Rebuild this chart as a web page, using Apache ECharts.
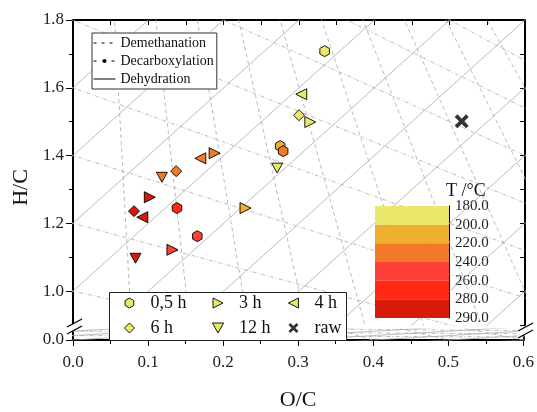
<!DOCTYPE html>
<html>
<head>
<meta charset="utf-8">
<script src="https://cdn.jsdelivr.net/npm/echarts@6/dist/echarts.min.js"></script>
<style>
  html, body { margin: 0; padding: 0; background: #fff; }
  #chart { width: 537px; height: 412px; }
</style>
</head>
<body>
<div id="chart"></div>
<script>
var FONT = "'Liberation Serif', 'DejaVu Serif', serif";

// temperature classes and colours of the colour scale
var tempSteps = [180, 200, 220, 240, 260, 280];
var tempColors = ['#E9E86B', '#EEAE2E', '#F37A28', '#FE4136', '#FF2914', '#D71A0A'];
var tempTicks = ['180.0', '200.0', '220.0', '240.0', '260.0', '280.0', '290.0'];

// samples: [O/C, H/C, T]
var data05h = [[0.334, 1.708, 180], [0.275, 1.428, 200], [0.279, 1.413, 220], [0.138, 1.245, 260], [0.165, 1.162, 240]];
var data3h = [[0.315, 1.499, 180], [0.229, 1.245, 200], [0.188, 1.407, 220], [0.102, 1.277, 280], [0.132, 1.122, 240]];
var data4h = [[0.303, 1.581, 180], [0.169, 1.392, 220], [0.092, 1.218, 280]];
var data6h = [[0.300, 1.519, 180], [0.137, 1.354, 220], [0.081, 1.236, 280]];
var data12h = [[0.271, 1.363, 180], [0.118, 1.336, 220], [0.083, 1.097, 280]];
var dataRaw = [[0.516, 1.501]];

// reaction lines
var demethEnds = [0.1, 0.2, 0.3, 0.4, 0.5, 0.6, 0.7, 0.8, 0.9, 1.0];   // O/C at H/C = 0, lines through (0, 4)
var decarbStarts = [0.2, 0.4, 0.6, 0.8, 1.0, 1.2, 1.4, 1.6, 1.8, 2.0, 2.2, 2.4, 2.6]; // H/C at O/C = 0, lines to (2, 0)
var dehydStarts = [1.8, 1.6, 1.4, 1.2, 1.0, 0.8, 0.6, 0.4, 0.2, 0, -0.2, -0.4, -0.6, -0.8, -1.0, -1.2]; // slope 2

function demethLine(a) { return [[0, 4], [a * 1.05, -0.2]]; }
function decarbLine(b) { return [[-0.05, b * 1.025], [0.7, b * 0.65]]; }
function dehydLine(c) { return [[-0.05, c - 0.1], [0.7, c + 1.4]]; }

function toSegments(list, lineFn) {
    var out = [];
    list.forEach(function (v) {
        var s = lineFn(v);
        out.push(s[0], s[1], ['-', '-']);
    });
    return out;
}

var SYM = {
    hex: 'path://M5,0L9.33,2.5L9.33,7.5L5,10L0.67,7.5L0.67,2.5Z',
    right: 'path://M0,0L10,5L0,10Z',
    left: 'path://M10,0L0,5L10,10Z',
    diamond: 'path://M5,0L10,5L5,10L0,5Z',
    down: 'path://M0,0L10,0L5,9Z',
    cross: 'path://M1.9,0L5,3.1L8.1,0L10,1.9L6.9,5L10,8.1L8.1,10L5,6.9L1.9,10L0,8.1L3.1,5L0,1.9Z'
};

function tempColor(p) {
    return tempColors[tempSteps.indexOf(p.value[2])];
}

var guideColor = '#a9a9a9';

function guideSeries(name, list, lineFn, type, symbol, xi, yi) {
    return {
        type: 'line', name: name, xAxisIndex: xi, yAxisIndex: yi,
        data: toSegments(list, lineFn),
        symbol: symbol, showSymbol: false, silent: true, z: 1,
        connectNulls: false, clip: true,
        lineStyle: { color: guideColor, width: 0.8, type: type },
        itemStyle: { color: '#000' }
    };
}

function pointSeries(name, data, symbol, size) {
    return {
        type: 'scatter', name: name, xAxisIndex: 0, yAxisIndex: 0,
        data: data, symbol: symbol, symbolSize: size, symbolKeepAspect: true, z: 5,
        itemStyle: { color: tempColor, borderColor: '#000', borderWidth: 0.9, opacity: 1 }
    };
}

var series = [
    guideSeries('Demethanation', demethEnds, demethLine, [4, 3], 'none', 0, 0),
    guideSeries('Decarboxylation', decarbStarts, decarbLine, [4, 2, 1, 2], 'circle', 0, 0),
    guideSeries('Dehydration', dehydStarts, dehydLine, 'solid', 'none', 0, 0),
    guideSeries('demethLow', demethEnds, demethLine, [4, 3], 'none', 1, 3),
    guideSeries('decarbLow', decarbStarts, decarbLine, [4, 2, 1, 2], 'none', 1, 3),
    guideSeries('dehydLow', dehydStarts, dehydLine, 'solid', 'none', 1, 3),
    pointSeries('0,5 h', data05h, SYM.hex, 11),
    pointSeries('3 h', data3h, SYM.right, 11),
    pointSeries('4 h', data4h, SYM.left, 11),
    pointSeries('6 h', data6h, SYM.diamond, 11),
    pointSeries('12 h', data12h, SYM.down, 11),
    {
        type: 'scatter', name: 'raw', xAxisIndex: 0, yAxisIndex: 0, data: dataRaw,
        symbol: SYM.cross, symbolSize: 14, z: 5,
        itemStyle: { color: '#000', borderWidth: 0 }
    }
];

// colour scale blocks
tempColors.forEach(function (c, i) {
    series.push({
        type: 'bar', name: 'T' + i, stack: 'scale', xAxisIndex: 2, yAxisIndex: 5,
        data: [1], barWidth: '100%', silent: true,
        itemStyle: { color: c }
    });
});

var axisLine = { show: true, lineStyle: { color: '#000', width: 2 } };
var tickStyle = { color: '#000', width: 1 };
var labelStyle = { fontFamily: FONT, fontSize: 17, color: '#222' };

var markerLegend = {
    orient: 'vertical', top: 294, itemWidth: 32, itemHeight: 10, itemGap: 7, padding: 0,
    selectedMode: false,
    textStyle: { fontFamily: FONT, fontSize: 18, color: '#111' },
    itemStyle: { color: '#E9E86B', borderColor: '#000', borderWidth: 0.9 }
};

var option = {
    animation: false,
    backgroundColor: '#fff',
    title: {
        text: 'T /°C', left: 446, top: 182, padding: 0,
        textStyle: { fontFamily: FONT, fontSize: 18, fontWeight: 'normal', color: '#111' }
    },
    grid: [
        { left: 73, top: 20, width: 452, height: 305 },
        { left: 73, top: 329, width: 452, height: 22 },
        { left: 375, top: 206, width: 74, height: 112 }
    ],
    xAxis: [
        {
            gridIndex: 0, type: 'value', min: 0, max: 0.6, interval: 0.05, position: 'top',
            axisLine: axisLine, axisTick: { inside: true, length: 5, lineStyle: tickStyle },
            axisLabel: { show: false }, splitLine: { show: false }
        },
        {
            gridIndex: 1, type: 'value', min: 0, max: 0.6, interval: 0.1, position: 'bottom',
            axisLine: axisLine, axisTick: { length: 6, lineStyle: tickStyle },
            minorTick: { show: true, splitNumber: 2, length: 4, lineStyle: tickStyle },
            axisLabel: Object.assign({ margin: 14, formatter: function (v) { return v.toFixed(1); } }, labelStyle),
            splitLine: { show: false },
            name: 'O/C', nameLocation: 'middle', nameGap: 49,
            nameTextStyle: { fontFamily: FONT, fontSize: 22, color: '#111' }
        },
        { gridIndex: 2, type: 'category', data: ['T'], show: false }
    ],
    yAxis: [
        {
            gridIndex: 0, type: 'value', min: 0.9, max: 1.8, interval: 0.1, position: 'left',
            axisLine: axisLine, axisTick: { length: 4, lineStyle: tickStyle },
            axisLabel: Object.assign({
                margin: 9,
                formatter: function (v) { return Math.round(v * 10) % 2 === 0 ? v.toFixed(1) : ''; }
            }, labelStyle),
            splitLine: { show: false },
            name: 'H/C', nameLocation: 'middle', nameGap: 41,
            nameTextStyle: { fontFamily: FONT, fontSize: 22, color: '#111', padding: [0, 30, 0, 0] }
        },
        {
            gridIndex: 0, type: 'value', min: 0.9, max: 1.8, position: 'left',
            axisLine: { show: false },
            axisTick: { show: true, length: 7, lineStyle: tickStyle, customValues: [1.0, 1.2, 1.4, 1.6, 1.8] },
            axisLabel: { show: false }, splitLine: { show: false }
        },
        {
            gridIndex: 0, type: 'value', min: 0.9, max: 1.8, interval: 0.1, position: 'right',
            axisLine: axisLine, axisTick: { inside: true, length: 5, lineStyle: tickStyle },
            axisLabel: { show: false }, splitLine: { show: false }
        },
        {
            gridIndex: 1, type: 'value', min: 0, max: 0.5, position: 'left',
            axisLine: axisLine,
            axisTick: { length: 7, lineStyle: tickStyle, customValues: [0] },
            axisLabel: Object.assign({ margin: 9, customValues: [0], formatter: function (v) { return v.toFixed(1); } }, labelStyle),
            splitLine: { show: false }
        },
        {
            gridIndex: 1, type: 'value', min: 0, max: 0.5, position: 'right',
            axisLine: axisLine, axisTick: { show: false },
            axisLabel: { show: false }, splitLine: { show: false }
        },
        {
            gridIndex: 2, type: 'value', min: 0, max: 6, interval: 1, inverse: true, position: 'right',
            axisLine: { show: true, lineStyle: { color: '#000', width: 1 } },
            axisTick: { length: 5, lineStyle: tickStyle },
            axisLabel: Object.assign({}, labelStyle, { fontSize: 15, margin: 6, formatter: function (v) { return tempTicks[v]; } }),
            splitLine: { show: false }
        }
    ],
    legend: [
        {
            left: 92, top: 33, orient: 'vertical', itemWidth: 22, itemHeight: 5, itemGap: 4,
            padding: [3, 3, 3, 1], backgroundColor: '#fff', borderColor: '#333', borderWidth: 1,
            selectedMode: false,
            textStyle: { fontFamily: FONT, fontSize: 14, color: '#111' },
            lineStyle: { color: '#000', width: 1 },
            itemStyle: { color: '#000', borderWidth: 0 },
            data: [
                { name: 'Demethanation', lineStyle: { type: [3, 5] }, itemStyle: { opacity: 0 } },
                { name: 'Decarboxylation', lineStyle: { type: [3, 6] } },
                { name: 'Dehydration', lineStyle: { type: 'solid' }, itemStyle: { opacity: 0 } }
            ]
        },
        Object.assign({ left: 124, data: ['0,5 h', '6 h'] }, markerLegend),
        Object.assign({ left: 212, data: ['3 h', '12 h'] }, markerLegend),
        Object.assign({ left: 288, data: ['4 h', { name: 'raw', itemStyle: { color: '#000', borderWidth: 0 } }] }, markerLegend)
    ],
    graphic: [
        {
            type: 'rect', z: 3, shape: { x: 109.5, y: 292.5, width: 237, height: 48 },
            style: { fill: '#fff', stroke: '#222', lineWidth: 1 }
        },
        // axis breaks
        { type: 'polygon', z: 10, shape: { points: [[67, 327], [82, 319], [82, 326], [67, 334]] }, style: { fill: '#fff' } },
        { type: 'line', z: 11, shape: { x1: 67, y1: 327, x2: 82, y2: 319 }, style: { stroke: '#000', lineWidth: 1.3 } },
        { type: 'line', z: 11, shape: { x1: 67, y1: 334, x2: 82, y2: 326 }, style: { stroke: '#000', lineWidth: 1.3 } },
        { type: 'polygon', z: 10, shape: { points: [[518, 331], [533, 323], [533, 330], [518, 338]] }, style: { fill: '#fff' } },
        { type: 'line', z: 11, shape: { x1: 518, y1: 331, x2: 533, y2: 323 }, style: { stroke: '#000', lineWidth: 1.3 } },
        { type: 'line', z: 11, shape: { x1: 518, y1: 338, x2: 533, y2: 330 }, style: { stroke: '#000', lineWidth: 1.3 } }
    ],
    series: series
};

var chart = echarts.init(document.getElementById('chart'), null, { renderer: 'canvas' });
chart.setOption(option);
</script>
</body>
</html>
